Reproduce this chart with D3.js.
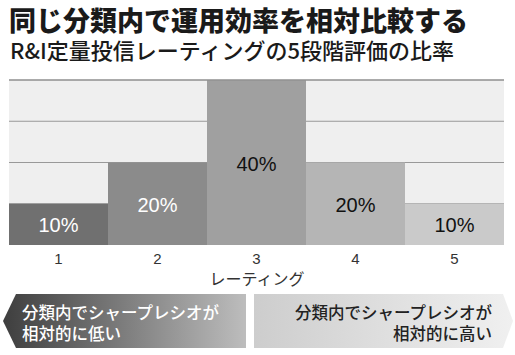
<!DOCTYPE html>
<html>
<head>
<meta charset="utf-8">
<script src="https://cdn.jsdelivr.net/npm/d3@7"></script>
<style>
body { margin: 0; background: #fff; }
svg { display: block; font-family: "Noto Sans CJK JP", "Noto Sans", sans-serif; }
</style>
</head>
<body>
<div id="chart"></div>
<script>
// data
var ratings = ["1", "2", "3", "4", "5"];
var shares = [10, 20, 40, 20, 10];
var barColors = ["#707070", "#8b8b8b", "#a0a0a0", "#b5b5b5", "#cacaca"];
var labelColors = ["#fff", "#fff", "#111", "#111", "#111"];
var gridValues = [10, 20, 30, 40];

var svg = d3.select("#chart").append("svg")
	.attr("width", 515)
	.attr("height", 355);

// titles
svg.append("text").text("同じ分類内で運用効率を相対比較する")
	.attr("x", 9).attr("y", 31)
	.attr("font-size", 27).attr("font-weight", 900)
	.attr("fill", "#1a1a1a");
svg.append("text").text("R&I定量投信レーティングの5段階評価の比率")
	.attr("x", 10).attr("y", 59)
	.attr("font-size", 22).attr("font-weight", 500)
	.attr("fill", "#1a1a1a");

var plotLeft = 9, plotRight = 504, plotTop = 80, plotBottom = 245;

var x = d3.scaleBand().domain(ratings).range([plotLeft, plotRight]).padding(0);
var y = d3.scaleLinear().domain([0, 40]).range([plotBottom, plotTop]);

// background + grid
svg.append("rect")
	.attr("x", plotLeft).attr("y", plotTop)
	.attr("width", plotRight - plotLeft).attr("height", plotBottom - plotTop)
	.attr("fill", "#efefef");
svg.selectAll(".grid").data(gridValues).enter()
	.append("line")
	.attr("class", "grid")
	.attr("x1", plotLeft).attr("x2", plotRight)
	.attr("y1", function(d){ return y(d); })
	.attr("y2", function(d){ return y(d); })
	.attr("stroke", "#999").attr("stroke-width", 1.2);

// bars
svg.selectAll(".bar").data(shares).enter()
	.append("rect")
	.attr("class", "bar")
	.attr("x", function(d, i){ return x(ratings[i]); })
	.attr("y", function(d){ return y(d); })
	.attr("width", x.bandwidth())
	.attr("height", function(d){ return plotBottom - y(d); })
	.attr("fill", function(d, i){ return barColors[i]; });

// top line over the tallest bar
svg.append("line")
	.attr("x1", plotLeft).attr("x2", plotRight)
	.attr("y1", y(40)).attr("y2", y(40))
	.attr("stroke", "#8a8a8a").attr("stroke-width", 1.2);

svg.selectAll(".val").data(shares).enter()
	.append("text")
	.attr("class", "val")
	.text(function(d){ return d + "%"; })
	.attr("x", function(d, i){ return x(ratings[i]) + x.bandwidth() / 2; })
	.attr("y", function(d){ return (y(d) + plotBottom) / 2 + 8; })
	.attr("text-anchor", "middle")
	.attr("font-family", "'Liberation Sans', Arial, sans-serif")
	.attr("font-size", 20)
	.attr("fill", function(d, i){ return labelColors[i]; });

// x axis
var xAxis = d3.axisBottom(x).tickSize(0).tickPadding(0);
var gx = svg.append("g")
	.attr("transform", "translate(0," + plotBottom + ")")
	.call(xAxis);
gx.select(".domain").remove();
gx.selectAll("text")
	.attr("dy", 0).attr("y", 19)
	.attr("font-family", "'Liberation Sans', Arial, sans-serif")
	.attr("font-size", 15)
	.attr("fill", "#333");

svg.append("text").text("レーティング")
	.attr("x", 257).attr("y", 285)
	.attr("text-anchor", "middle")
	.attr("font-size", 16)
	.attr("fill", "#333");

// arrows
var defs = svg.append("defs");
var g1 = defs.append("linearGradient").attr("id", "gLow");
g1.append("stop").attr("offset", "0%").attr("stop-color", "#3e3e3e");
g1.append("stop").attr("offset", "100%").attr("stop-color", "#bdbdbd");
var g2 = defs.append("linearGradient").attr("id", "gHigh");
g2.append("stop").attr("offset", "0%").attr("stop-color", "#cdcdcd");
g2.append("stop").attr("offset", "100%").attr("stop-color", "#f0f0f0");

var aTop = 294, aBot = 348, aMid = (aTop + aBot) / 2;
svg.append("path")
	.attr("d", "M16," + aTop + "L246," + aTop + "L246," + aBot + "L16," + aBot + "L3," + aMid + "Z")
	.attr("fill", "url(#gLow)");
svg.append("path")
	.attr("d", "M254," + aTop + "L503," + aTop + "L513," + aMid + "L503," + aBot + "L254," + aBot + "Z")
	.attr("fill", "url(#gHigh)");

var lowLines = ["分類内でシャープレシオが", "相対的に低い"];
var highLines = ["分類内でシャープレシオが", "相対的に高い"];
svg.selectAll(".low").data(lowLines).enter()
	.append("text")
	.text(function(d){ return d; })
	.attr("x", 22)
	.attr("y", function(d, i){ return 319 + i * 21; })
	.attr("font-size", 16.5).attr("font-weight", 500)
	.attr("fill", "#fff");
svg.selectAll(".high").data(highLines).enter()
	.append("text")
	.text(function(d){ return d; })
	.attr("x", 492)
	.attr("y", function(d, i){ return 319 + i * 21; })
	.attr("text-anchor", "end")
	.attr("font-size", 16.5).attr("font-weight", 500)
	.attr("fill", "#222");
</script>
</body>
</html>
